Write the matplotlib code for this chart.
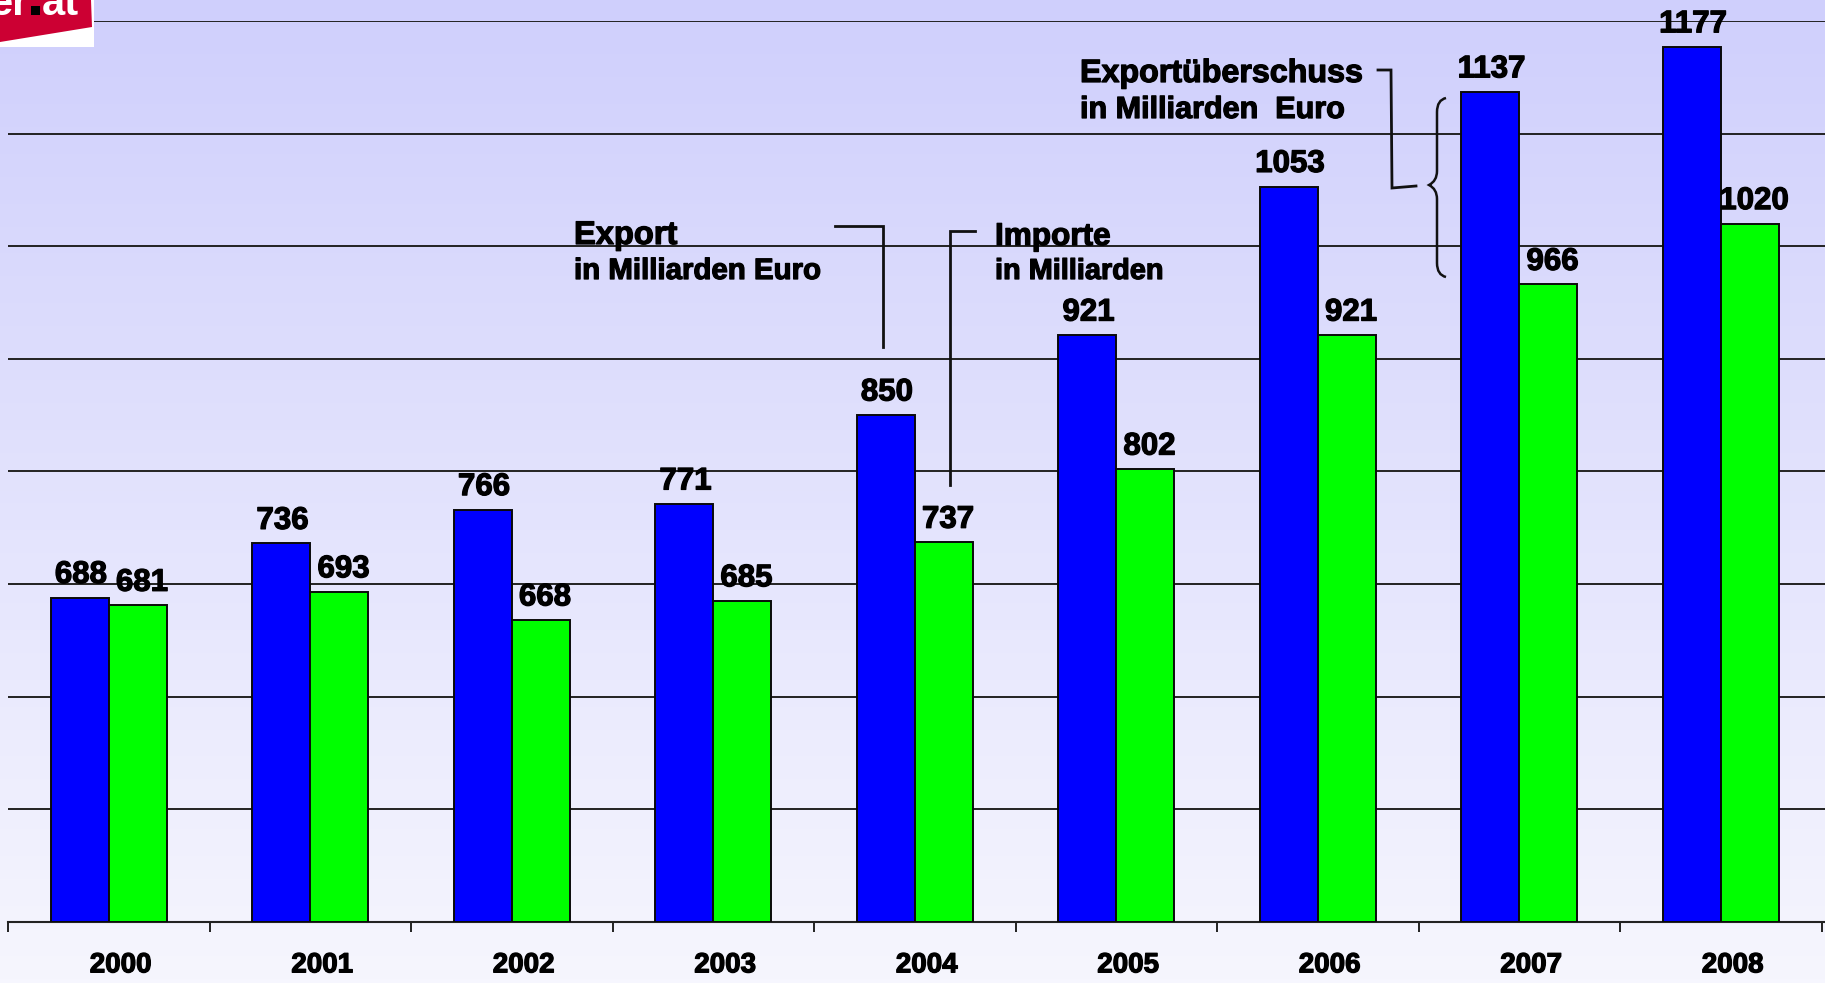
import matplotlib
matplotlib.use("Agg")
import matplotlib.pyplot as plt
import matplotlib.transforms as mtransforms
import matplotlib.patheffects as pe
import numpy as np
from matplotlib.patches import Rectangle, Polygon, PathPatch
from matplotlib.path import Path

years = ["2000", "2001", "2002", "2003", "2004", "2005", "2006", "2007", "2008"]
exports = [688, 736, 766, 771, 850, 921, 1053, 1137, 1177]
imports = [681, 693, 668, 685, 737, 802, 921, 966, 1020]
y_ticks = [400, 500, 600, 700, 800, 900, 1000, 1100, 1200]

plt.rcParams['font.family'] = ['Liberation Sans', 'DejaVu Sans']
plt.rcParams['font.weight'] = 'bold'

W, H = 1825, 983
fig = plt.figure(figsize=(W / 100, H / 100), dpi=100)
heavy = [pe.withStroke(linewidth=0.9, foreground='black')]

# background gradient
bg = fig.add_axes([0, 0, 1, 1], zorder=-10)
top = np.array([207, 207, 252]) / 255
bot = np.array([246, 246, 254]) / 255
t = np.linspace(0, 1, 256)[:, None]
grad = top[None, :] * (1 - t) + bot[None, :] * t
bg.imshow(grad[:, None, :], aspect='auto', extent=[0, 1, 0, 1])
bg.axis('off')

# main axes
left = 8 / W
bottom = 1 - 921.8 / H
topy = 1 - 21 / H
ax = fig.add_axes([left, bottom, 1 - left, topy - bottom])
ax.set_facecolor('none')
catw = 201.5
ax.set_xlim(-0.5, -0.5 + (W - 8) / catw)
ax.set_ylim(400, 1200)

x = np.arange(len(years))
w = 0.289
ax.bar(x - w / 2, np.array(exports) - 400, w, bottom=400, color='#0000FF',
       edgecolor='#0a0a0a', linewidth=1.4, zorder=3)
ax.bar(x + w / 2, np.array(imports) - 400, w, bottom=400, color='#00FF00',
       edgecolor='#0a0a0a', linewidth=1.4, zorder=3)

for xi, v in zip(x - w / 2, exports):
    ax.annotate(str(v), (xi, v), xytext=(1, 10.5), textcoords='offset points',
                ha='center', va='baseline', fontsize=22.5, fontweight='bold', zorder=5,
                path_effects=heavy)
for xi, v in zip(x + w / 2, imports):
    ax.annotate(str(v), (xi, v), xytext=(3, 10.5), textcoords='offset points',
                ha='center', va='baseline', fontsize=22.5, fontweight='bold', zorder=5,
                path_effects=heavy)

for yv in y_ticks[1:]:
    ax.axhline(yv, color='#222222', linewidth=1.4, zorder=1)

for s in ['left', 'right', 'top']:
    ax.spines[s].set_visible(False)
ax.spines['bottom'].set_color('#222222')
ax.spines['bottom'].set_linewidth(1.5)
ax.set_yticks([])
ax.set_xticks(np.arange(len(years) + 1) - 0.5)
ax.set_xticklabels([])
ax.tick_params(axis='x', which='major', direction='out', length=7.5, width=1.4, color='#222222')
ax.set_xticks(x, minor=True)
ax.set_xticklabels(years, minor=True, fontsize=20, fontweight='bold')
ax.tick_params(axis='x', which='minor', length=0, pad=22)
shift = mtransforms.ScaledTranslation(12 / 100, 0, fig.dpi_scale_trans)
for lab in ax.get_xticklabels(minor=True):
    lab.set_transform(lab.get_transform() + shift)
    lab.set_path_effects(heavy)

# overlay for annotations (pixel coordinates)
ov = fig.add_axes([0, 0, 1, 1], zorder=20)
ov.set_xlim(0, W)
ov.set_ylim(H, 0)
ov.axis('off')
ov.patch.set_alpha(0)

lc = '#111111'
lw = 2.0
# Export leader
ov.plot([835, 883, 883], [226, 226, 347], color=lc, lw=lw, solid_joinstyle='miter')
# Import leader
ov.plot([975, 950, 950], [231, 231, 485], color=lc, lw=lw, solid_joinstyle='miter')
# Exportueberschuss leader
ov.plot([1378, 1391, 1392, 1416], [70, 70, 188, 186], color=lc, lw=lw, solid_joinstyle='miter')

# curly brace
bx, y0, ym, y1 = 1437, 98, 185, 277
verts = [(1446, y0), (1437, y0 + 2), (bx, y0 + 14), (bx, y0 + 30),
         (bx, ym - 14), (bx, ym - 4), (1429, ym),
         (bx, ym + 4), (bx, ym + 14), (bx, ym + 30),
         (bx, y1 - 14), (1437, y1 - 2), (1446, y1)]
codes = [Path.MOVETO, Path.CURVE3, Path.CURVE3, Path.LINETO,
         Path.LINETO, Path.CURVE3, Path.CURVE3,
         Path.CURVE3, Path.CURVE3, Path.LINETO,
         Path.LINETO, Path.CURVE3, Path.CURVE3]
ov.add_patch(PathPatch(Path(verts, codes), fill=False, edgecolor=lc, lw=1.8))

txt = dict(fontweight='bold', va='baseline', ha='left', path_effects=heavy)
ov.text(574, 244, "Export", fontsize=23.5, **txt)
ov.text(574, 279, "in Milliarden Euro", fontsize=21.2, **txt)
ov.text(995, 245, "Importe", fontsize=22.7, **txt)
ov.text(995, 279, "in Milliarden", fontsize=20.8, **txt)
ov.text(1080, 82, "Exportüberschuss", fontsize=23.2, **txt)
ov.text(1080, 118, "in Milliarden  Euro", fontsize=22, **txt)

# logo (cropped)
ov.add_patch(Rectangle((0, 0), 94, 47, facecolor='white', edgecolor='none'))
ov.add_patch(Polygon([(0, 0), (91, 0), (92, 27), (0, 42)], closed=True,
                     facecolor='#CC0033', edgecolor='none'))
ov.text(29, 15, "er", fontsize=30, fontweight='bold', color='white', ha='right', va='baseline')
ov.add_patch(Rectangle((31, 6), 9, 9, facecolor='black', edgecolor='none'))
ov.text(42, 15, "at", fontsize=30, fontweight='bold', color='white', ha='left', va='baseline')

fig.savefig("out.png", dpi=100)
